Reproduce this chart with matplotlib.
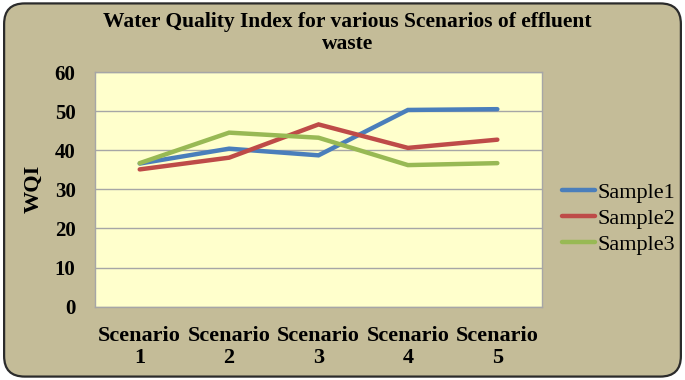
import matplotlib.pyplot as plt
import numpy as np
from matplotlib.patches import FancyBboxPatch

# data
scenarios = ['Scenario\n1', 'Scenario\n2', 'Scenario\n3', 'Scenario\n4', 'Scenario\n5']
sample1 = [36.6, 40.4, 38.7, 50.3, 50.5]
sample2 = [35.1, 38.1, 46.6, 40.6, 42.7]
sample3 = [36.7, 44.5, 43.2, 36.2, 36.7]
series_names = ['Sample1', 'Sample2', 'Sample3']
colors = ['#4A7EBB', '#BE4B48', '#98B954']

plt.rcParams['font.family'] = ['Liberation Serif', 'DejaVu Serif']

fig = plt.figure(figsize=(6.85, 3.8), dpi=100)
fig.patch.set_facecolor('white')

# rounded tan frame round the whole chart
frame = FancyBboxPatch((0.006, 0.009), 0.988, 0.982,
                       boxstyle='round,pad=0,rounding_size=0.03',
                       transform=fig.transFigure, facecolor='#C4BC98',
                       edgecolor='#2b2b2b', linewidth=1.6, zorder=-5,
                       mutation_aspect=685 / 380)
fig.patches.append(frame)

ax = fig.add_axes([0.1387, 0.1929, 0.6526, 0.6176])
ax.set_facecolor('#FFFFCC')

x = np.arange(1, len(scenarios) + 1)
for vals, name, c in zip([sample1, sample2, sample3], series_names, colors):
    ax.plot(x, vals, color=c, lw=3.2, label=name, solid_capstyle='round',
            solid_joinstyle='miter', zorder=3)

ax.set_xlim(0.5, 5.5)
ax.set_ylim(0, 60)
ax.set_yticks(np.arange(0, 61, 10))
ax.set_xticks(x)
ax.set_xticklabels(scenarios, fontweight='bold', fontsize=16, linespacing=1.1)
for lbl in ax.get_yticklabels():
    lbl.set_fontweight('bold')
    lbl.set_fontsize(15)
ax.tick_params(axis='both', length=0)
ax.tick_params(axis='y', pad=14)
ax.tick_params(axis='x', pad=14)
ax.grid(axis='y', color='#A6A6A6', lw=1)
ax.set_axisbelow(True)
for s in ax.spines.values():
    s.set_color('#A6A6A6')
    s.set_linewidth(1)

ax.set_ylabel('WQI', fontweight='bold', fontsize=16, labelpad=8)

fig.text(0.507, 0.913, 'Water Quality Index for various Scenarios of effluent\nwaste',
         ha='center', va='center', fontweight='bold', fontsize=15.5, linespacing=1.15)

ax.legend(loc='center left', bbox_to_anchor=(1.0, 0.376), frameon=False,
          fontsize=16, handlelength=1.5, handletextpad=0.1, labelspacing=0.25)

fig.savefig('out.png', dpi=100, facecolor=fig.get_facecolor())
